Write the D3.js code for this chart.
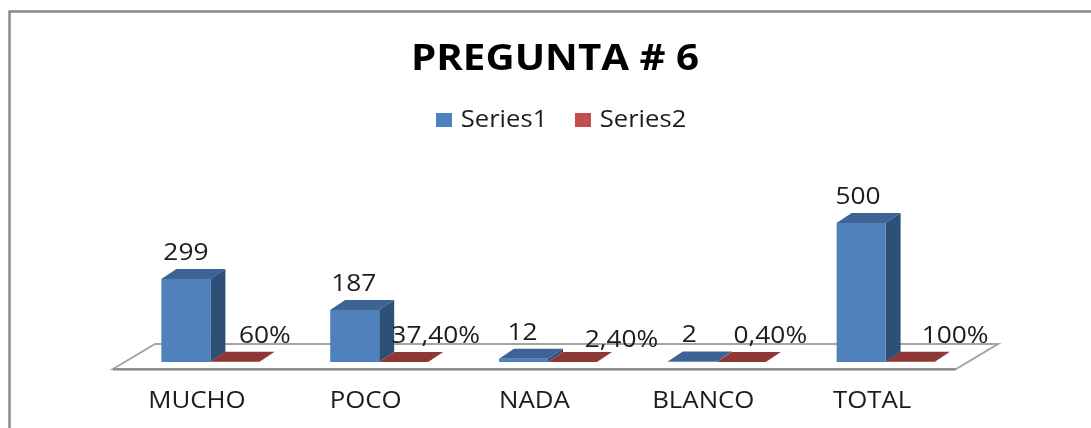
<!DOCTYPE html>
<html><head><meta charset="utf-8">
<script src="https://cdn.jsdelivr.net/npm/d3@7"></script>
<style>html,body{margin:0;background:#fff}svg{display:block}</style></head>
<body><svg id="c" width="1091" height="428"></svg>
<script>
const categories = ["MUCHO","POCO","NADA","BLANCO","TOTAL"];
const series1 = [299,187,12,2,500];
const series2 = [0.6,0.374,0.024,0.004,1];
const series2Labels = ["60%","37,40%","2,40%","0,40%","100%"];
const seriesNames = ["Series1","Series2"];
const titleText = "PREGUNTA # 6";

// hand-placed data label nudges, as in the original chart
const labelNudgeS1 = [0,-1,-1,-3,-3];
const labelNudgeS2 = [[30,0],[32,0],[49,4],[29,0],[45,0]];

const svg = d3.select("#c");
const font = "'Open Sans',sans-serif";
const defs = svg.append("defs");
defs.append("filter").attr("id","soft").attr("x","-5%").attr("y","-5%").attr("width","110%").attr("height","110%")
  .append("feGaussianBlur").attr("stdDeviation",0.5);

const depthX = 15, depthY = 10;
const baseY = 362;
const x = d3.scaleBand().domain(categories).range([126, 970]);
const barW = 49;
const y = d3.scaleLinear().domain([0,500]).range([baseY, 223]);
const barX = (c,i) => x(c) + (x.bandwidth()-2*barW)/2 + i*barW;

// frame: top and left edges only, the picture is cut off on the other sides
svg.append("path").attr("d","M9.5,428V11.5H1091").attr("fill","none").attr("stroke","#8a8a8a").attr("stroke-width",2.5);

const g = svg.append("g").attr("filter","url(#soft)");

// floor
g.append("path").attr("d",`M113,369 L155,344 H998 L956,369 Z`).attr("fill","#fff").attr("stroke","#a4a4a4").attr("stroke-width",2);
g.append("line").attr("x1",113).attr("x2",956).attr("y1",369.5).attr("y2",369.5).attr("stroke","#858585").attr("stroke-width",2.2);

function bar(cx, v, w, front, top, side){
  const t = y(v);
  g.append("path").attr("d",`M${cx},${t} l${depthX},${-depthY} h${w} l${-depthX},${depthY} Z`).attr("fill",top);
  g.append("path").attr("d",`M${cx+w},${t} l${depthX},${-depthY} V${baseY-depthY} l${-depthX},${depthY} Z`).attr("fill",side);
  g.append("rect").attr("x",cx).attr("y",t).attr("width",w).attr("height",baseY-t).attr("fill",front);
}
categories.forEach((c,i)=>{
  bar(barX(c,0), series1[i], barW, "#4f81bd", "#3c6494", "#2f4f77");
});
categories.forEach((c,i)=>{
  bar(barX(c,1), series2[i], barW, "#c0504d", "#8e3735", "#7a2e2c");
});

const txt = (t,px,py,size,sx,weight) => g.append("text").text(t)
  .attr("transform",`translate(${px},${py}) scale(${sx},1)`)
  .attr("font-family",font).attr("font-size",size).attr("text-anchor","middle")
  .attr("font-weight",weight||400).attr("fill","#1c1c1c");

categories.forEach((c,i)=>{
  txt(c, barX(c,0)+barW/2+11, 408, 23.5, 1.1);
  txt(series1[i], barX(c,0)+barW/2+labelNudgeS1[i], y(series1[i])-19, 23.5, 1.12);
  txt(series2Labels[i], barX(c,1)+barW/2+labelNudgeS2[i][0], 343+labelNudgeS2[i][1], 23.5, 1.12);
});

txt(titleText, 555, 70, 36, 1.12, 700).attr("fill","#000");

// legend
const lg = [{x:436,c:"#4f81bd"},{x:575,c:"#c0504d"}];
lg.forEach((l,i)=>{
  g.append("rect").attr("x",l.x).attr("y",113).attr("width",16).attr("height",14).attr("fill",l.c);
  txt(seriesNames[i], l.x+25+43, 127, 23.5, 1.09);
});
</script></body></html>
